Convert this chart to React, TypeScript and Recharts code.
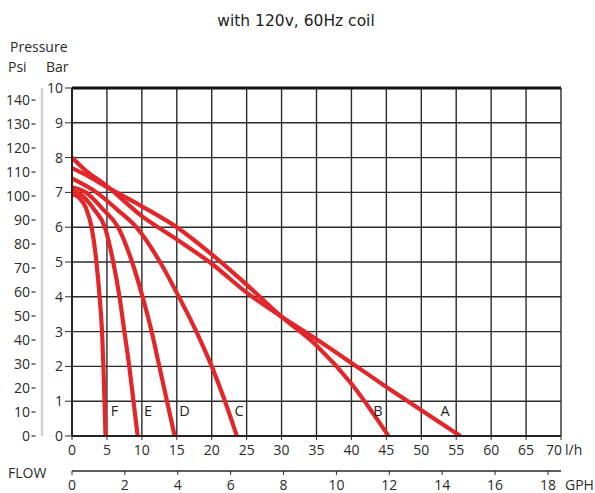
import {
  ComposedChart,
  Line,
  Scatter,
  XAxis,
  YAxis,
  CartesianGrid,
  ReferenceLine,
} from "recharts";

/* ── palette ── */
const C = {
  red: "#e3262a",
  grid: "#2b2b2b",
  ink: "#2a2a2a",
  psiLine: "#d2d2d2",
};

const FONT = "'Open Sans', 'Noto Sans', sans-serif";
const FS = 14;

/* ── data (flow l/h, pressure bar) ── */
const lhTicks = [0, 5, 10, 15, 20, 25, 30, 35, 40, 45, 50, 55, 60, 65, 70];
const gphTicks = [0, 2, 4, 6, 8, 10, 12, 14, 16, 18];
const barTicks = [0, 1, 2, 3, 4, 5, 6, 7, 8, 9, 10];
const psiTicks = [0, 10, 20, 30, 40, 50, 60, 70, 80, 90, 100, 110, 120, 130, 140];

const LH_PER_GPH = 3.785;
const PSI_PER_BAR = 14.5038;

const curveA = [
  { q: 0, p: 8.0 }, { q: 2, p: 7.62 }, { q: 4.5, p: 7.26 }, { q: 10, p: 6.32 },
  { q: 15, p: 5.65 }, { q: 20, p: 4.95 }, { q: 25, p: 4.12 }, { q: 30, p: 3.43 },
  { q: 35, p: 2.78 }, { q: 40, p: 2.1 }, { q: 45, p: 1.41 }, { q: 50, p: 0.74 },
  { q: 55.6, p: 0 },
];
const curveB = [
  { q: 0, p: 7.7 }, { q: 2, p: 7.5 }, { q: 5, p: 7.15 }, { q: 10, p: 6.6 },
  { q: 15, p: 6.0 }, { q: 20, p: 5.22 }, { q: 25, p: 4.35 }, { q: 30, p: 3.43 },
  { q: 35, p: 2.6 }, { q: 40, p: 1.5 }, { q: 45.3, p: 0 },
];
const curveC = [
  { q: 0, p: 7.4 }, { q: 3.5, p: 7.0 }, { q: 6.5, p: 6.5 }, { q: 9.2, p: 6.0 },
  { q: 12.6, p: 5.0 }, { q: 15.3, p: 4.0 }, { q: 17.8, p: 3.0 }, { q: 20.0, p: 2.0 },
  { q: 21.9, p: 1.0 }, { q: 23.6, p: 0 },
];
const curveD = [
  { q: 0, p: 7.15 }, { q: 2, p: 7.0 }, { q: 4.5, p: 6.5 }, { q: 6.6, p: 6.0 },
  { q: 8.6, p: 5.0 }, { q: 10.1, p: 4.0 }, { q: 11.4, p: 3.0 }, { q: 12.5, p: 2.0 },
  { q: 13.6, p: 1.0 }, { q: 14.7, p: 0 },
];
const curveE = [
  { q: 0, p: 7.05 }, { q: 1.5, p: 6.9 }, { q: 3.2, p: 6.5 }, { q: 4.7, p: 6.0 },
  { q: 5.9, p: 5.0 }, { q: 6.8, p: 4.0 }, { q: 7.5, p: 3.0 }, { q: 8.2, p: 2.0 },
  { q: 8.8, p: 1.0 }, { q: 9.4, p: 0 },
];
const curveF = [
  { q: 0, p: 6.95 }, { q: 1, p: 6.85 }, { q: 2, p: 6.55 }, { q: 2.8, p: 6.0 },
  { q: 3.5, p: 5.0 }, { q: 3.95, p: 4.0 }, { q: 4.3, p: 3.0 }, { q: 4.5, p: 2.0 },
  { q: 4.65, p: 1.0 }, { q: 4.8, p: 0 },
];
const curves = [curveA, curveB, curveC, curveD, curveE, curveF];

const curveNames = ["F", "E", "D", "C", "B", "A"];
const nameFlow = [6.1, 10.9, 16.1, 23.9, 43.8, 53.4];
const namePressure = [0.73, 0.73, 0.73, 0.73, 0.73, 0.73];
const nameData = curveNames.map((name, i) => ({ name, q: nameFlow[i], p: namePressure[i] }));

/* ── custom ticks ── */
const PsiTick = ({ x, y, payload }: any) => (
  <g>
    <text x={x - 12} y={y} dy="0.36em" textAnchor="end" fontSize={FS} fill={C.ink} fontFamily={FONT}>
      {payload.value}
    </text>
    <line x1={x - 10.5} x2={x - 6.5} y1={y} y2={y} stroke={C.ink} strokeWidth={1.2} />
  </g>
);

const LhTick = ({ x, y, payload }: any) => {
  const last = payload.value === 70;
  return (
    <g>
      <text
        x={last ? x + 1 : x}
        y={y}
        dy="0.71em"
        textAnchor={last ? "end" : "middle"}
        fontSize={FS}
        fill={C.ink}
        fontFamily={FONT}
      >
        {payload.value}
      </text>
      {last && (
        <text x={x + 4} y={y} dy="0.71em" fontSize={FS} fill={C.ink} fontFamily={FONT}>
          l/h
        </text>
      )}
    </g>
  );
};

const Letter = ({ cx, cy, payload }: any) => (
  <text x={cx} y={cy} dy="0.36em" textAnchor="middle" fontSize={14.5} fill="#1e1e1e" fontFamily={FONT}>
    {payload.name}
  </text>
);

const tickStyle = { fontSize: FS, fill: C.ink, fontFamily: FONT };

export default function App() {
  return (
    <div style={{ position: "absolute", left: 0, top: 0, width: 595, height: 493, background: "#fff" }}>
      <div
        style={{
          position: "absolute",
          left: 0,
          width: 592,
          top: 12,
          textAlign: "center",
          fontFamily: "'DejaVu Sans', sans-serif",
          fontSize: 15.5,
          color: "#222",
        }}
      >
        with 120v, 60Hz coil
      </div>
      <div style={{ position: "absolute", left: 10, top: 37, fontFamily: FONT, fontSize: 14, color: C.ink }}>
        Pressure
      </div>
      <div style={{ position: "absolute", left: 8, top: 57, fontFamily: FONT, fontSize: 14, color: C.ink }}>Psi</div>
      <div style={{ position: "absolute", left: 46, top: 57, fontFamily: FONT, fontSize: 14, color: C.ink }}>Bar</div>
      <div style={{ position: "absolute", left: 8, top: 463, fontFamily: FONT, fontSize: 14, color: C.ink }}>FLOW</div>
      <div style={{ position: "absolute", left: 565, top: 475, fontFamily: FONT, fontSize: FS, color: C.ink }}>GPH</div>

      <ComposedChart width={595} height={493} margin={{ top: 88, right: 34, bottom: 0, left: 12 }}>
        <CartesianGrid xAxisId="flow" yAxisId="bar" stroke={C.grid} strokeWidth={1.4} />
        <XAxis
          xAxisId="gph"
          dataKey="q"
          type="number"
          domain={[0, 70 / LH_PER_GPH]}
          ticks={gphTicks}
          allowDataOverflow
          height={22}
          tickSize={4}
          tickMargin={5}
          stroke={C.grid}
          axisLine={{ stroke: C.grid, strokeWidth: 1.5 }}
          tick={tickStyle}
        />
        <XAxis
          xAxisId="flow"
          dataKey="q"
          type="number"
          domain={[0, 70]}
          ticks={lhTicks}
          allowDataOverflow
          height={35}
          tickSize={4}
          tickMargin={5}
          stroke={C.grid}
          axisLine={{ stroke: "#111", strokeWidth: 1.5 }}
          tick={<LhTick />}
        />
        <YAxis
          yAxisId="psi"
          type="number"
          domain={[0, 10 * PSI_PER_BAR]}
          ticks={psiTicks}
          allowDataOverflow
          width={30}
          tickSize={0}
          tickMargin={0}
          tickLine={false}
          axisLine={{ stroke: C.psiLine, strokeWidth: 2.5 }}
          tick={<PsiTick />}
        />
        <YAxis
          yAxisId="bar"
          dataKey="p"
          type="number"
          domain={[0, 10]}
          ticks={barTicks}
          allowDataOverflow
          width={30}
          tickSize={7}
          tickMargin={2}
          stroke={C.grid}
          axisLine={{ stroke: "#111", strokeWidth: 1.5 }}
          tick={tickStyle}
        />
        <ReferenceLine xAxisId="flow" yAxisId="bar" y={10} stroke="#111" strokeWidth={3} />
        {curves.map((data, i) => (
          <Line
            key={i}
            xAxisId="flow"
            yAxisId="bar"
            data={data}
            dataKey="p"
            type="monotone"
            stroke={C.red}
            strokeWidth={4.2}
            dot={false}
            activeDot={false}
            isAnimationActive={false}
          />
        ))}
        <Scatter
          xAxisId="flow"
          yAxisId="bar"
          data={nameData}
          dataKey="p"
          shape={<Letter />}
          isAnimationActive={false}
        />
      </ComposedChart>
    </div>
  );
}
